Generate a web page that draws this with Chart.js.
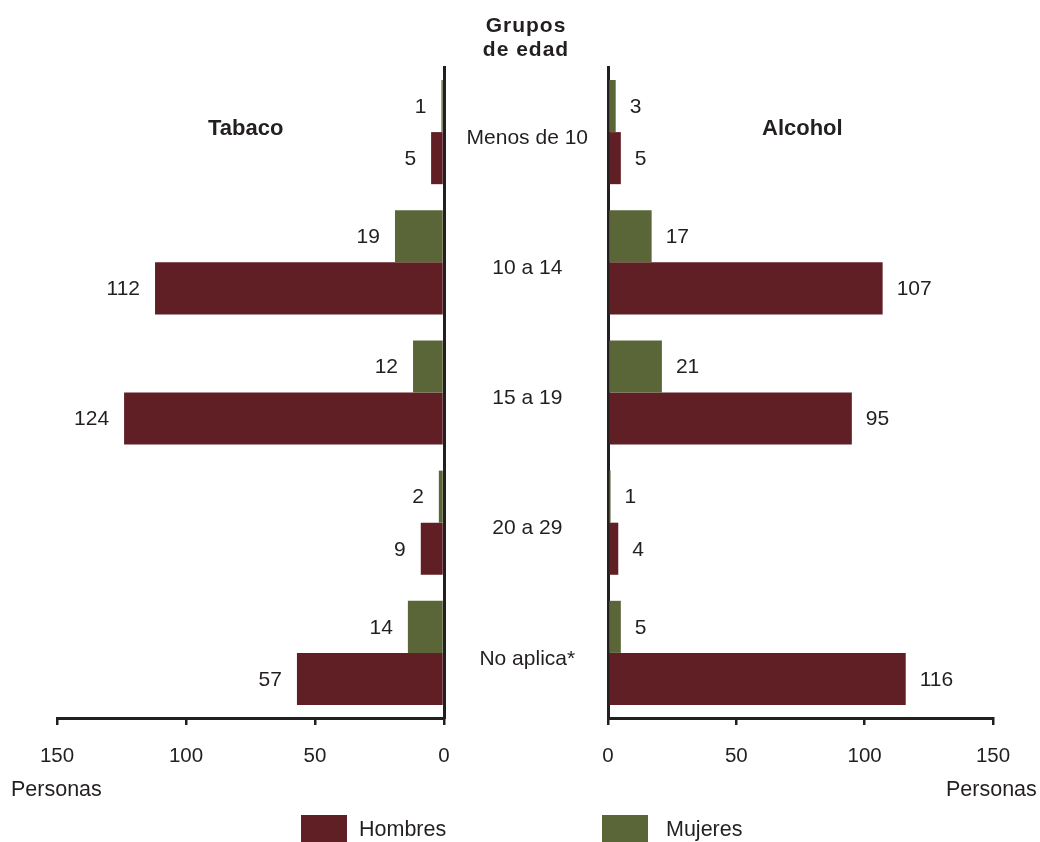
<!DOCTYPE html>
<html>
<head>
<meta charset="utf-8">
<script src="https://cdn.jsdelivr.net/npm/chart.js@4"></script>
<style>
  body { margin: 0; background: #fff; font-family: "Liberation Sans", Arial, sans-serif; color: #231f20; }
  #wrap { position: relative; width: 1040px; height: 842px; }
  canvas { position: absolute; left: 0; top: 0; }
  .txt { position: absolute; white-space: nowrap; font-size: 21.5px; line-height: 1; }
  .bold { font-weight: bold; font-size: 22px; }
  .box { position: absolute; width: 46px; height: 27px; }
</style>
</head>
<body>
<div id="wrap">
  <canvas id="tabaco_chart" width="1040" height="842"></canvas>
  <canvas id="alcohol_chart" width="1040" height="842"></canvas>

  <div class="txt bold" style="left:0;width:1052px;text-align:center;top:14px;letter-spacing:1px;font-size:21px;">Grupos</div>
  <div class="txt bold" style="left:0;width:1052px;text-align:center;top:38px;letter-spacing:1px;font-size:21px;">de edad</div>
  <div class="txt bold" style="left:208px;top:117px;">Tabaco</div>
  <div class="txt bold" style="left:762px;top:117px;">Alcohol</div>
  <div class="txt" style="left:11px;top:779px;">Personas</div>
  <div class="txt" style="left:946px;top:779px;">Personas</div>

  <div class="box" style="left:301px;top:815px;background:#5f1f24;"></div>
  <div class="txt" style="left:359px;top:819px;">Hombres</div>
  <div class="box" style="left:602px;top:815px;background:#5a6638;"></div>
  <div class="txt" style="left:666px;top:819px;">Mujeres</div>
</div>

<script>
// age groups (middle column)
const grupos = ['Menos de 10', '10 a 14', '15 a 19', '20 a 29', 'No aplica*'];

// Tabaco
const tabaco_mujeres = [1, 19, 12, 2, 14];
const tabaco_hombres = [5, 112, 124, 9, 57];

// Alcohol
const alcohol_mujeres = [3, 17, 21, 1, 5];
const alcohol_hombres = [5, 107, 95, 4, 116];

const x_ticks = [0, 50, 100, 150];

const color_hombres = '#5f1f24';
const color_mujeres = '#5a6638';
const ink = '#231f20';
const font_name = '"Liberation Sans", Arial, sans-serif';

// value labels next to the end of each bar
const valueLabels = {
  id: 'valueLabels',
  afterDatasetsDraw(chart, args, opts) {
    const ctx = chart.ctx;
    ctx.save();
    ctx.font = '21px ' + font_name;
    ctx.fillStyle = ink;
    ctx.textBaseline = 'middle';
    chart.data.datasets.forEach(function (ds, i) {
      chart.getDatasetMeta(i).data.forEach(function (bar, j) {
        if (opts.side == 'left') {
          ctx.textAlign = 'right';
          ctx.fillText(ds.data[j], bar.x - 15, bar.y + 1);
        } else {
          ctx.textAlign = 'left';
          ctx.fillText(ds.data[j], bar.x + 14, bar.y + 1);
        }
      });
    });
    ctx.restore();
  }
};

function make_datasets(mujeres, hombres) {
  return [
    { label: 'Mujeres', data: mujeres, backgroundColor: color_mujeres, categoryPercentage: 0.8, barPercentage: 1.0 },
    { label: 'Hombres', data: hombres, backgroundColor: color_hombres, categoryPercentage: 0.8, barPercentage: 1.0 }
  ];
}

function x_scale(reverse) {
  return {
    min: 0,
    max: 150,
    reverse: reverse,
    afterBuildTicks: function (s) { s.ticks = x_ticks.map(v => ({ value: v })); },
    afterFit: function (s) { s.height = 124; },
    grid: { drawOnChartArea: false, drawTicks: true, tickLength: 7, color: ink, lineWidth: 2.5 },
    border: { display: true, color: ink, width: 3 },
    ticks: { color: ink, font: { size: 20.5, family: font_name }, padding: 19, maxRotation: 0 }
  };
}

// left chart: Tabaco, bars grow to the left
const tabaco_chart = new Chart(document.getElementById('tabaco_chart'), {
  type: 'bar',
  data: { labels: grupos, datasets: make_datasets(tabaco_mujeres, tabaco_hombres) },
  options: {
    indexAxis: 'y',
    responsive: false,
    animation: false,
    layout: { padding: { left: 57, right: 596, top: 67, bottom: 0 } },
    plugins: { legend: { display: false }, tooltip: { enabled: false }, valueLabels: { side: 'left' } },
    scales: {
      x: x_scale(true),
      y: {
        position: 'right',
        afterFit: function (s) { s.width = 0; },
        grid: { display: false, drawTicks: false },
        border: { display: true, color: ink, width: 3 },
        ticks: { display: false }
      }
    }
  },
  plugins: [valueLabels]
});

// right chart: Alcohol, its y axis carries the age group names
const alcohol_chart = new Chart(document.getElementById('alcohol_chart'), {
  type: 'bar',
  data: { labels: grupos, datasets: make_datasets(alcohol_mujeres, alcohol_hombres) },
  options: {
    indexAxis: 'y',
    responsive: false,
    animation: false,
    layout: { padding: { left: 444, right: 47, top: 67, bottom: 0 } },
    plugins: { legend: { display: false }, tooltip: { enabled: false }, valueLabels: { side: 'right' } },
    scales: {
      x: x_scale(false),
      y: {
        position: 'left',
        afterFit: function (s) { s.width = 164; },
        grid: { display: false, drawTicks: false },
        border: { display: true, color: ink, width: 3 },
        ticks: { color: ink, font: { size: 21, family: font_name }, crossAlign: 'center', padding: 20, labelOffset: 6 }
      }
    }
  },
  plugins: [valueLabels]
});
</script>
</body>
</html>
